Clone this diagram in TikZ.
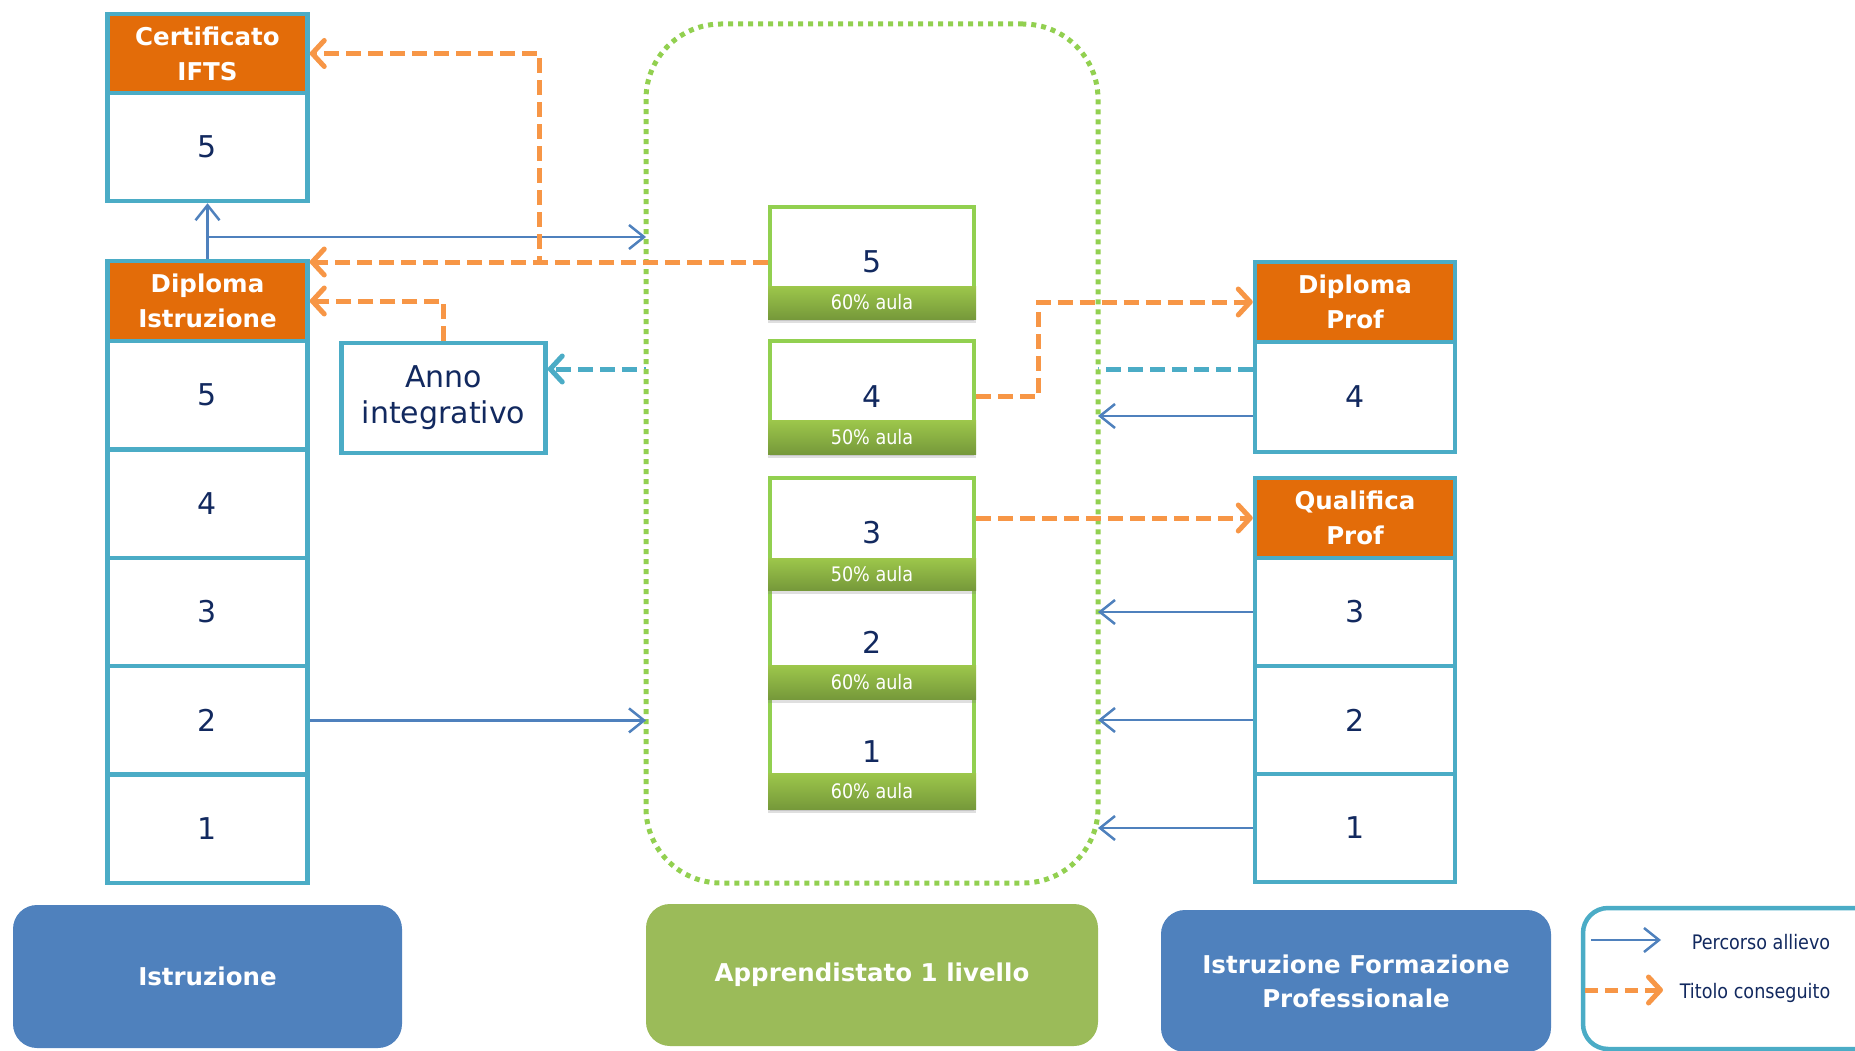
\documentclass[tikz,border=0pt]{standalone}
\usepackage{fontspec}
\setmainfont{DejaVu Sans}
\newfontfamily\narrowfont{DejaVu Sans}[FakeStretch=0.88]
\usetikzlibrary{arrows.meta,shadows,calc}

\definecolor{navy}{HTML}{12295F}
\definecolor{tealline}{HTML}{4BACC6}
\definecolor{headorange}{HTML}{E36C09}
\definecolor{dashorange}{HTML}{F79646}
\definecolor{pathblue}{HTML}{4F81BD}
\definecolor{leafgreen}{HTML}{92D050}
\definecolor{olivegreen}{HTML}{9BBB59}
\definecolor{bandtop}{HTML}{9DC74B}
\definecolor{bandbottom}{HTML}{76993A}

\begin{document}
\begin{tikzpicture}[x=1pt,y=-1pt,
  cell/.style={draw=tealline, line width=4.5pt, fill=white, text=navy,
    minimum width=200pt, inner sep=0pt, font=\fontsize{30}{36}\selectfont},
  head/.style={cell, fill=headorange, text=white, align=center,
    font=\bfseries\fontsize{24.5}{35}\selectfont},
  yearbox/.style={draw=leafgreen, line width=4pt, fill=white, text=navy,
    minimum width=204pt, inner sep=0pt, font=\fontsize{30}{36}\selectfont,
    drop shadow={opacity=0.25, shadow xshift=0pt, shadow yshift=-4pt}},
  band/.style={top color=bandtop, bottom color=bandbottom, draw=none,
    minimum width=208pt, inner sep=0pt, text=white,
    font=\narrowfont\fontsize{20}{24}\selectfont,
    drop shadow={opacity=0.25, shadow xshift=0pt, shadow yshift=-4pt}},
  pathline/.style={draw=pathblue, line width=2.5pt,
    -{Straight Barb[length=15pt,width=24pt]}},
  titlearrow/.style={draw=dashorange, line width=5pt, dash pattern=on 15pt off 7pt,
    -{Straight Barb[length=12pt,width=26pt,round]}},
  bridge/.style={titlearrow, draw=tealline},
  sector/.style={rounded corners=24pt, inner sep=0pt, text=white, align=center,
    font=\bfseries\fontsize{24.5}{34}\selectfont},
  legendtext/.style={text=navy, inner sep=0pt, font=\narrowfont\fontsize{20}{24}\selectfont}
]
\useasboundingbox (0,0) rectangle (1855,1051);

% ---------- Istruzione column ----------
\node[head, minimum height=79pt] (ch) at (207.5,53.5) {Certificato\\IFTS};
\node[cell, minimum height=108pt] (c5) at (207.5,147) {5};

\node[head, minimum height=80pt] (dh) at (207.5,301) {Diploma\\Istruzione};
\node[cell, minimum height=108.4pt] (d5) at (207.5,395.2) {5};
\node[cell, minimum height=108.4pt] (d4) at (207.5,503.6) {4};
\node[cell, minimum height=108.4pt] (d3) at (207.5,612) {3};
\node[cell, minimum height=108.4pt] (d2) at (207.5,720.4) {2};
\node[cell, minimum height=108.4pt] (d1) at (207.5,828.8) {1};

\node[cell, minimum width=204pt, minimum height=110pt, align=center,
  font=\fontsize{30}{36}\selectfont] (anno) at (443.5,398) {Anno\\integrativo};

% ---------- IeFP column ----------
\node[head, minimum height=80pt] (ph) at (1355,302) {Diploma\\Prof};
\node[cell, minimum height=110pt] (p4) at (1355,397) {4};

\node[head, minimum height=80pt] (qh) at (1355,518) {Qualifica\\Prof};
\node[cell, minimum height=108pt] (q3) at (1355,612) {3};
\node[cell, minimum height=108pt] (q2) at (1355,720) {2};
\node[cell, minimum height=108pt] (q1) at (1355,828) {1};

% passage from the IeFP diploma to the supplementary year (runs behind the apprenticeship area)
\draw[bridge] ([yshift=28pt]p4.west) -- ([yshift=28pt]p4.west -| anno.east);

% ---------- apprenticeship area ----------
\node[draw=leafgreen, line width=5pt, dash pattern=on 5pt off 5pt,
  rounded corners=75pt, fill=white, minimum width=452pt, minimum height=859pt,
  inner sep=0pt, outer sep=0pt] (appr) at (872,453.5) {};

\node[yearbox, minimum height=110pt] (g5) at (872,262) {5};
\node[yearbox, minimum height=111pt] (g4) at (872,396.5) {4};
\node[yearbox, minimum height=110pt] (g3) at (872,533) {3};
\node[yearbox, minimum height=109pt] (g2) at (872,642.5) {2};
\node[yearbox, minimum height=110pt] (g1) at (872,752) {1};

\node[band, minimum height=33pt] (b5) at (872,302.5) {60\% aula};
\node[band, minimum height=34pt] (b4) at (872,437) {50\% aula};
\node[band, minimum height=32pt] (b3) at (872,574) {50\% aula};
\node[band, minimum height=34pt] (b2) at (872,682) {60\% aula};
\node[band, minimum height=36pt] (b1) at (872,791) {60\% aula};

% ---------- student paths ----------
\coordinate (split) at (207.5,237);
\draw[pathline] (dh.north) -- (c5.south);
\draw[pathline] (split) -- (split -| appr.west);
\draw[pathline] (d2.east) -- (d2.east -| appr.west);

\draw[pathline] ([yshift=-19pt]p4.west) -- ([yshift=-19pt]p4.west -| appr.east);
\draw[pathline] (q3.west) -- (q3.west -| appr.east);
\draw[pathline] (q2.west) -- (q2.west -| appr.east);
\draw[pathline] (q1.west) -- (q1.west -| appr.east);

% ---------- qualifications obtained ----------
\coordinate (jc) at (539,262);
\coordinate (jd) at (1038,396.5);
\draw[titlearrow] (g5.west) -- (g5.west -| dh.east);
\draw[titlearrow] (g5.west) -- (jc) |- (ch.east);
\draw[titlearrow] (anno.north) |- (dh.east);
\draw[titlearrow] (g4.east) -- (jd) |- (ph.west);
\draw[titlearrow] (qh.west -| g3.east) -- (qh.west);

% ---------- sector labels ----------
\node[sector, fill=pathblue, minimum width=389pt, minimum height=143pt] (si) at (207.5,976.5) {Istruzione};
\node[sector, fill=olivegreen, minimum width=452pt, minimum height=142pt] (sa) at (872,975) {Apprendistato 1 livello};
\node[sector, fill=pathblue, minimum width=390pt, minimum height=142pt] (sf) at (1356,981) {Istruzione Formazione\\Professionale};

% ---------- legend ----------
\draw[draw=tealline, line width=4.5pt, rounded corners=25pt] (1583,908) rectangle (1885,1049);
\coordinate (la1) at (1591,940);
\coordinate (la2) at (1661,940);
\coordinate (lb1) at (1585,990);
\coordinate (lb2) at (1663,990);
\draw[pathline] (la1) -- (la2);
\draw[titlearrow, dash pattern=on 13pt off 7pt] (lb1) -- (lb2);
\node[legendtext] (lt1) at (1761,942) {Percorso allievo};
\node[legendtext] (lt2) at (1755,993) {Titolo conseguito};
\end{tikzpicture}
\end{document}
